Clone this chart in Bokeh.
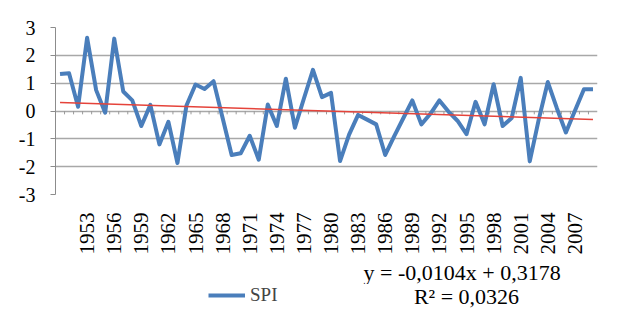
import math
from bokeh.plotting import figure
from bokeh.layouts import column
from bokeh.models import Range1d, FixedTicker, Legend, LegendItem, Title, Label
from bokeh.embed import file_html
from bokeh.resources import INLINE

# ---------------- data ----------------
years = list(range(1950, 2010))
spi = [1.33, 1.36, 0.15, 2.63, 0.75, -0.06, 2.60, 0.70, 0.38, -0.54,
       0.22, -1.20, -0.39, -1.87, 0.20, 0.95, 0.79, 1.07, -0.25, -1.58,
       -1.52, -0.89, -1.75, 0.23, -0.54, 1.16, -0.60, 0.45, 1.48, 0.50,
       0.65, -1.80, -0.85, -0.14, -0.31, -0.48, -1.58, -0.90, -0.26, 0.38,
       -0.48, -0.10, 0.38, -0.02, -0.35, -0.83, 0.33, -0.48, 0.96, -0.54,
       -0.25, 1.19, -1.81, -0.30, 1.04, 0.10, -0.77, 0.01, 0.78, 0.78]
label_years = list(range(1953, 2008, 3))
y_ticks = [-3, -2, -1, 0, 1, 2, 3]
y_tick_labels = ["-3", "-2", "-1", "0", "1", "2", "3"]
series_name = "SPI"
trend_slope = -0.0104
trend_intercept = 0.3178
eq_text = "y = -0,0104x + 0,3178"
r2_text = "R\u00b2 = 0,0326"

FONT = "'Liberation Serif'"
LINE_COLOR = "#4a7ebb"

p = figure(width=619, height=284,
           x_range=Range1d(years[0] - 0.5, years[-1] + 0.5),
           y_range=Range1d(-3, 3),
           output_backend="svg", toolbar_location=None,
           min_border_left=55, min_border_right=22,
           min_border_top=27, min_border_bottom=84)
p.outline_line_color = None
p.background_fill_color = "white"
p.border_fill_color = "white"

# grid
p.xgrid.grid_line_color = None
p.ygrid.ticker = FixedTicker(ticks=y_ticks)
p.ygrid.grid_line_color = "#a8a8a8"
p.ygrid.grid_line_width = 1.5

# y axis
p.yaxis.ticker = FixedTicker(ticks=y_ticks)
p.yaxis.major_label_overrides = {t: s for t, s in zip(y_ticks, y_tick_labels)}
p.yaxis.axis_line_color = "#8c8c8c"
p.yaxis.major_tick_line_color = "#8c8c8c"
p.yaxis.major_tick_out = 5
p.yaxis.major_tick_in = 0
p.yaxis.minor_tick_line_color = None
p.yaxis.major_label_standoff = 15
p.yaxis.major_label_text_font = FONT
p.yaxis.major_label_text_font_size = "20px"
p.yaxis.major_label_text_color = "black"

# x axis (labels only, at bottom)
p.xaxis.ticker = FixedTicker(ticks=label_years)
p.xaxis.major_label_overrides = {y: str(y) for y in label_years}
p.xaxis.axis_line_color = None
p.xaxis.major_tick_line_color = None
p.xaxis.minor_tick_line_color = None
p.xaxis.major_label_orientation = math.pi / 2
p.xaxis.major_label_standoff = 12
p.xaxis.major_label_text_font = FONT
p.xaxis.major_label_text_font_size = "21px"
p.xaxis.major_label_text_color = "black"

# small category tick marks on the zero line
bx = [y + 0.5 for y in years[:-1]]
p.segment(x0=bx, y0=[0] * len(bx), x1=bx, y1=[-0.12] * len(bx),
          line_color="#9a9a9a", line_width=1)

# series
r = p.line(years, spi, line_color=LINE_COLOR, line_width=4, line_join="round")

# linear trend (Excel index x = 1..N)
tx = [years[0], years[-1]]
ty = [trend_slope * (x - years[0] + 1) + trend_intercept for x in tx]
p.line(tx, ty, line_color="#e5433a", line_width=1.5)

# trend equation, first line
p.add_layout(Title(text=eq_text, align="left", offset=308, standoff=0,
                   text_font=FONT, text_font_size="22px",
                   text_font_style="normal", text_color="black"), "below")

# ---- bottom strip: legend + R^2 (frame aligned with the chart frame) ----
q = figure(width=619, height=43, x_range=Range1d(0, 1), y_range=Range1d(0, 1),
           output_backend="svg", toolbar_location=None,
           x_axis_type=None, y_axis_type=None,
           min_border_left=55, min_border_right=22, min_border_top=0, min_border_bottom=0)
q.outline_line_color = None
q.xgrid.grid_line_color = None
q.ygrid.grid_line_color = None
q.background_fill_color = "white"
q.border_fill_color = "white"

# legend-only copy of the series (its data lie outside this strip's ranges)
r_leg = q.line(years, spi, line_color=LINE_COLOR, line_width=4)
legend = Legend(items=[LegendItem(label=series_name, renderers=[r_leg])],
                location=(153, 21), orientation="horizontal",
                glyph_width=37, glyph_height=20, label_height=20,
                label_standoff=5, padding=0, margin=0, spacing=0,
                border_line_color=None, background_fill_alpha=0,
                label_text_font=FONT, label_text_font_size="19px")
q.add_layout(legend)
q.add_layout(Label(x=411, y=31, x_units="screen", y_units="screen",
                   text=r2_text, text_align="center", text_baseline="middle",
                   text_font=FONT, text_font_size="22px", text_color="black"))

layout = column(p, q, spacing=0)
open("out.html", "w").write(file_html(layout, INLINE))
